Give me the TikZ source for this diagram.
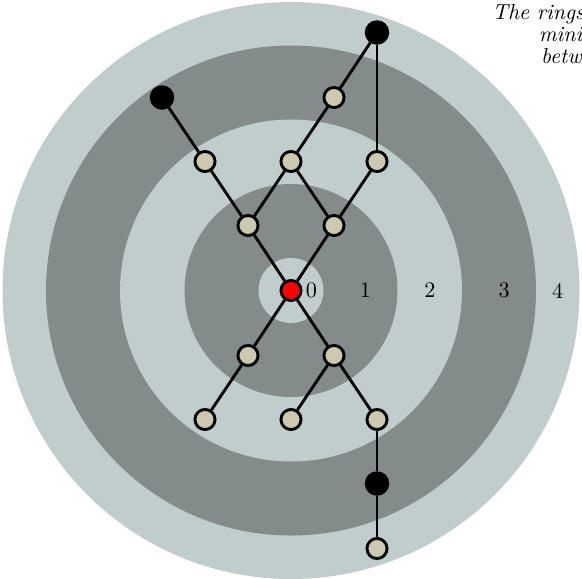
\documentclass[tikz,border=0pt]{standalone}
\definecolor{ringlight}{HTML}{C1CDCD}
\definecolor{ringdark}{HTML}{838B8B}
\definecolor{nodefill}{HTML}{CDC8B1}
\tikzset{
  vnode/.style={circle, draw=black, line width=1.3pt, fill=nodefill, minimum size=9.05pt, inner sep=0pt},
  rootnode/.style={vnode, fill=red},
  farnode/.style={vnode, fill=black, minimum size=9.7pt},
  edgeline/.style={line width=1.3pt},
  ringlabel/.style={inner sep=0pt, font=\normalsize}
}
\begin{document}
\begin{tikzpicture}[x=0.45pt, y=0.45pt]
\useasboundingbox (-291,-287.5) rectangle (291,290.5);
% rings
\fill[ringlight] (0,0) circle (288.5);
\fill[ringdark] (0,0) circle (245);
\fill[ringlight] (0,0) circle (171);
\fill[ringdark] (0,0) circle (106.5);
\fill[ringlight] (0,0) circle (32.5);
% ring labels
\node[ringlabel] (l0) at (20.5,0) {0};
\node[ringlabel] (l1) at (74.5,0) {1};
\node[ringlabel] (l2) at (139,0) {2};
\node[ringlabel] (l3) at (213.3,0) {3};
\node[ringlabel] (l4) at (266.7,0) {4};
% nodes
\node[rootnode] (r) at (0,0) {};
\node[vnode] (u1) at (-43,65) {};
\node[vnode] (u2) at (43,65) {};
\node[vnode] (u3) at (-86,129) {};
\node[vnode] (u4) at (0,129) {};
\node[vnode] (u5) at (86,129) {};
\node[farnode] (u6) at (-129,193) {};
\node[vnode] (u7) at (43,193) {};
\node[farnode] (u8) at (86,258) {};
\node[vnode] (d1) at (-43,-65) {};
\node[vnode] (d2) at (43,-65) {};
\node[vnode] (d3) at (-86,-129) {};
\node[vnode] (d4) at (0,-129) {};
\node[vnode] (d5) at (86,-129) {};
\node[farnode] (d6) at (86,-193) {};
\node[vnode] (d7) at (86,-258) {};
% edges
\draw[edgeline] (r) -- (u1);
\draw[edgeline] (r) -- (u2);
\draw[edgeline] (r) -- (d1);
\draw[edgeline] (r) -- (d2);
\draw[edgeline] (u1) -- (u3);
\draw[edgeline] (u1) -- (u4);
\draw[edgeline] (u2) -- (u4);
\draw[edgeline] (u2) -- (u5);
\draw[edgeline] (u3) -- (u6);
\draw[edgeline] (u4) -- (u7);
\draw[edgeline] (u7) -- (u8);
\draw[edgeline] (u5) -- (u8);
\draw[edgeline] (d1) -- (d3);
\draw[edgeline] (d2) -- (d4);
\draw[edgeline] (d2) -- (d5);
\draw[edgeline] (d5) -- (d6);
\draw[edgeline] (d6) -- (d7);
% caption
\node[anchor=north west, align=right, inner sep=0pt, font=\fontsize{9.8}{10.1}\selectfont\itshape] (cap) at (201,287)
  {The rings represent the\\minimum distance\\between two nodes};
\end{tikzpicture}
\end{document}
